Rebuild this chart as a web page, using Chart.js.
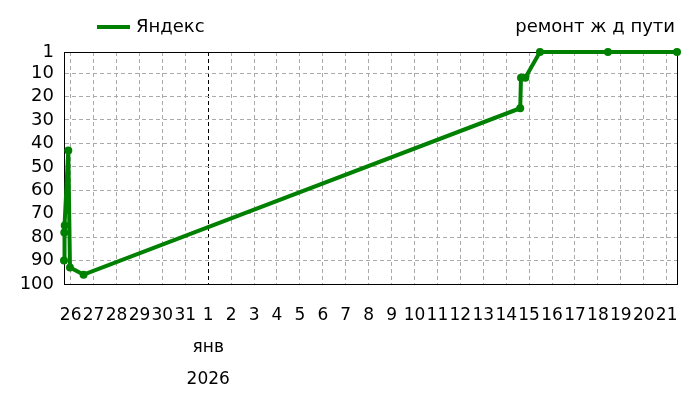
<!DOCTYPE html>
<html>
<head>
<meta charset="utf-8">
<script src="https://cdn.jsdelivr.net/npm/chart.js@4.4.1/dist/chart.umd.min.js"></script>
<style>
    html, body { margin: 0; padding: 0; background: #fff; }
</style>
</head>
<body>
<canvas id="grafico" width="700" height="400"></canvas>
<script>
const titulo = 'ремонт ж д пути'
const serie = 'Яндекс'
const dias = ['26', '27', '28', '29', '30', '31', '1', '2', '3', '4', '5', '6', '7', '8', '9',
    '10', '11', '12', '13', '14', '15', '16', '17', '18', '19', '20', '21']
const mes = 'янв'
const ano = '2026'
const ticksY = [1, 10, 20, 30, 40, 50, 60, 70, 80, 90, 100]

// horario da checagem e posicao no Яндекс
const horarios = ['2025-12-25 17:00', '2025-12-25 17:20', '2025-12-25 17:45', '2025-12-25 21:30',
    '2025-12-25 23:15', '2025-12-26 13:30', '2026-01-14 14:40', '2026-01-14 15:30',
    '2026-01-14 20:00', '2026-01-15 11:20', '2026-01-18 10:30', '2026-01-21 10:50']
const posicoes = [90, 78, 75, 43, 93, 96, 25, 12, 12, 1, 1, 1]

const verde = '#008000'
const fonte = 'DejaVu Sans, Verdana, sans-serif'

// dias a partir de 26 dez 00:00
function dia(str) {
    let [d, h] = str.split(' ')
    let [a, m, dd] = d.split('-').map(Number)
    let [hh, mm] = h.split(':').map(Number)
    return (Date.UTC(a, m - 1, dd, hh, mm) - Date.UTC(2025, 11, 26)) / 86400000
}

let pontos = []
for (let i = 0; i < horarios.length; i++) {
    pontos.push({ x: dia(horarios[i]), y: posicoes[i] })
}

const moldura = {
    id: 'moldura',
    beforeDatasetsDraw(chart) {
        let ctx = chart.ctx
        let a = chart.chartArea
        ctx.save()
        ctx.strokeStyle = '#000'
        ctx.lineWidth = 1
        ctx.strokeRect(Math.round(a.left) + 0.5, Math.round(a.top) + 0.5,
            Math.round(a.right - a.left), Math.round(a.bottom - a.top))
        ctx.restore()
    },
    afterDraw(chart) {
        let ctx = chart.ctx
        let a = chart.chartArea
        ctx.save()
        ctx.font = '18px ' + fonte
        ctx.fillStyle = '#000'
        ctx.textBaseline = 'middle'
        ctx.textAlign = 'right'
        ctx.fillText(titulo, a.right - 2, 27)
        ctx.strokeStyle = verde
        ctx.lineWidth = 4
        ctx.beginPath()
        ctx.moveTo(97, 27)
        ctx.lineTo(130, 27)
        ctx.stroke()
        ctx.textAlign = 'left'
        ctx.fillText(serie, 136, 27)
        ctx.restore()
    }
}

let ctx = document.getElementById('grafico').getContext('2d')
new Chart(ctx, {
    type: 'line',
    data: {
        datasets: [{
            label: serie,
            data: pontos,
            borderColor: verde,
            backgroundColor: verde,
            borderWidth: 4,
            pointRadius: 4,
            pointBorderWidth: 0,
            pointBackgroundColor: verde,
            tension: 0,
            clip: false
        }]
    },
    options: {
        responsive: false,
        animation: false,
        devicePixelRatio: 1,
        layout: { padding: { top: 52, right: 23, left: 0, bottom: 0 } },
        plugins: {
            legend: { display: false },
            title: { display: false },
            tooltip: { enabled: false }
        },
        scales: {
            x: {
                type: 'linear',
                min: pontos[0].x,
                max: pontos[pontos.length - 1].x,
                afterBuildTicks: (axis) => {
                    axis.ticks = dias.map((d, i) => ({ value: i }))
                },
                afterFit: (axis) => { axis.height = 116 },
                ticks: {
                    autoSkip: false,
                    maxRotation: 0,
                    minRotation: 0,
                    padding: 16,
                    color: '#000',
                    font: { family: fonte, size: 17, lineHeight: '32px' },
                    callback: (v) => v === 6 ? [dias[v], mes, ano] : dias[v]
                },
                grid: {
                    color: (c) => (c.tick && c.tick.value === 6) ? '#000' : '#aaa',
                    drawTicks: false,
                    lineWidth: 1
                },
                border: { color: '#000', dash: [4, 3] }
            },
            y: {
                min: 1,
                max: 100,
                reverse: true,
                afterBuildTicks: (axis) => {
                    axis.ticks = ticksY.map(v => ({ value: v }))
                },
                afterFit: (axis) => { axis.width = 64 },
                ticks: {
                    autoSkip: false,
                    padding: 10,
                    color: '#000',
                    font: { family: fonte, size: 18 }
                },
                grid: { color: '#aaa', drawTicks: false, lineWidth: 1 },
                border: { color: '#000', dash: [4, 3] }
            }
        }
    },
    plugins: [moldura]
})
</script>
</body>
</html>
